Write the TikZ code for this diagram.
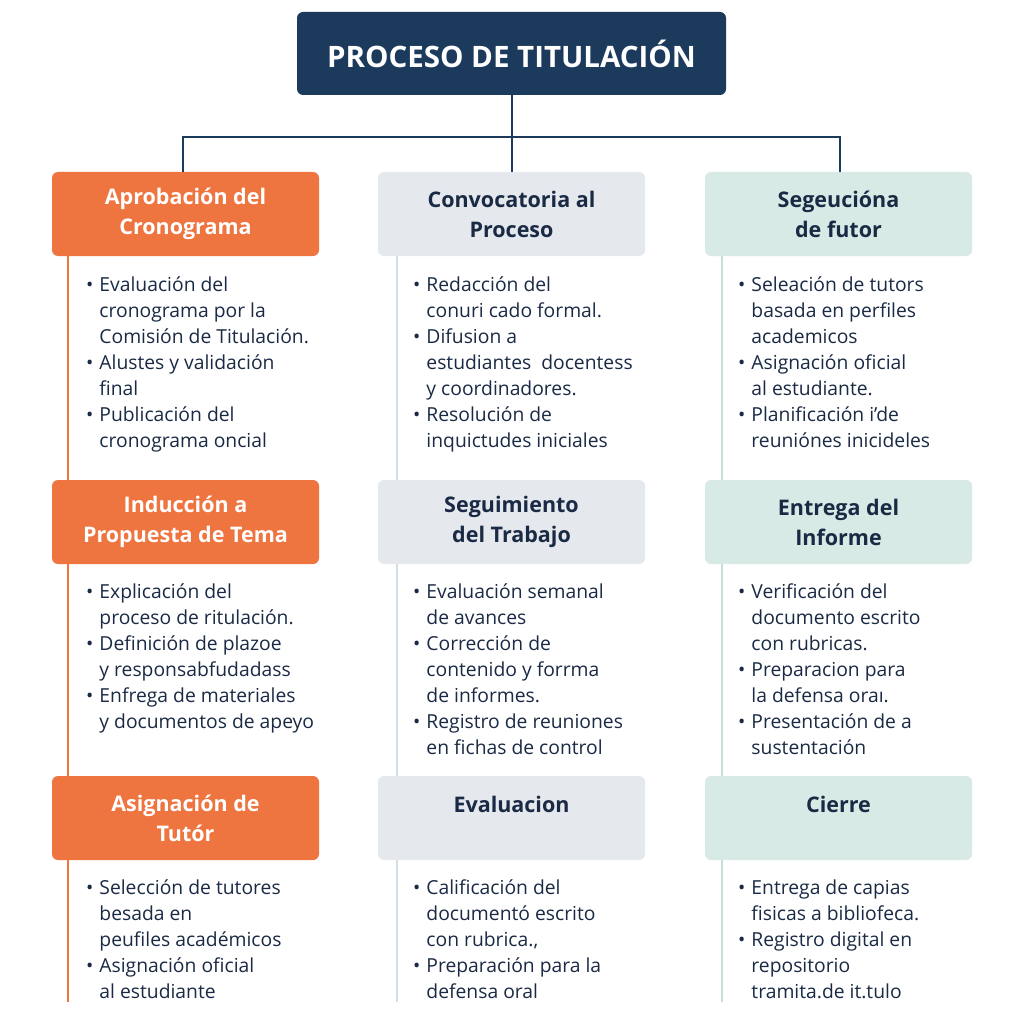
\documentclass[tikz,border=0pt]{standalone}
\usepackage{fontspec}
\setmainfont{Open Sans}
\usetikzlibrary{calc}
\definecolor{navy}{HTML}{1B3A5C}
\definecolor{ink}{HTML}{1A2A44}
\definecolor{orng}{HTML}{EE7440}
\definecolor{grayb}{HTML}{E5E9EE}
\definecolor{tealb}{HTML}{D8EAE6}
\definecolor{grayl}{HTML}{D5DDE4}
\definecolor{teall}{HTML}{C3DFD9}
\newcommand{\blist}[1]{\fontsize{19.3}{26}\selectfont\begin{tabular}{@{}l@{\hspace{6pt}}l@{}}#1\end{tabular}}
\begin{document}
\begin{tikzpicture}[x=1pt,y=-1pt,
  box/.style={rounded corners=6pt,minimum width=267pt,minimum height=84pt,align=center,font=\fontsize{21.5}{30}\selectfont\bfseries,inner sep=0pt},
  obox/.style={box,fill=orng,text=white},
  gbox/.style={box,fill=grayb,text=ink},
  tbox/.style={box,fill=tealb,text=ink},
  list/.style={anchor=north west,inner sep=0pt,text=ink},
  conn/.style={draw=navy,line width=2pt}]
\useasboundingbox (0,0) rectangle (1024,1024);
\fill[white] (0,0) rectangle (1024,1024);
\node[rounded corners=6pt,fill=navy,text=white,minimum width=429pt,minimum height=83pt,font=\fontsize{29.5}{32}\selectfont\bfseries] (title) at (511.5,53.5) {PROCESO DE TITULACIÓN};
% side lines
\draw[orng,line width=2.5pt] (68,256) -- (68,1002);
\draw[grayl,line width=2.5pt] (397,256) -- (397,1002);
\draw[teall,line width=2.5pt] (722,256) -- (722,1002);
% boxes
\node[obox] (a1) at (185.5,214) {Aprobación del\\Cronograma};
\node[gbox] (b1) at (511.5,214) {Convocatoria al\\Proceso};
\node[tbox] (c1) at (838.5,214) {Segeucióna\\de futor};
\node[obox] (a2) at (185.5,522) {Inducción a\\Propuesta de Tema};
\node[gbox] (b2) at (511.5,522) {Seguimiento\\del Trabajo};
\node[tbox] (c2) at (838.5,522) {Entrega del\\Informe};
\node[obox] (a3) at (185.5,818) {Asignación de\\Tutór};
\node[gbox] (b3) at (511.5,818) {};
\node[tbox] (c3) at (838.5,818) {};
\node[text=ink,font=\fontsize{21.5}{30}\selectfont\bfseries] (b3t) at (511.5,804) {Evaluacion};
\node[text=ink,font=\fontsize{21.5}{30}\selectfont\bfseries] (c3t) at (838.5,804) {Cierre};
% connectors
\coordinate (j) at (511.5,137);
\draw[conn] (title.south) -- (j);
\draw[conn] (a1.north -| 183,0) |- (j) -| (c1.north -| 840,0);
\draw[conn] (j) -- (b1.north);
% lists
\node[list] (la1) at (86,273) {\blist{• & Evaluación del\\ & cronograma por la\\ & Comisión de Titulación.\\• & Alustes y validación\\ & final\\• & Publicación del\\ & cronograma oncial}};
\node[list] (lb1) at (413,273) {\blist{• & Redacción del\\ & conuri cado formal.\\• & Difusion a\\ & estudiantes\ \ docentess\\ & y coordinadores.\\• & Resolución de\\ & inquictudes iniciales}};
\node[list] (lc1) at (738,273) {\blist{• & Seleación de tutors\\ & basada en perfiles\\ & academicos\\• & Asignación oficial\\ & al estudiante.\\• & Planificación i'de\\ & reuniónes inicideles}};
\node[list] (la2) at (86,580) {\blist{• & Explicación del\\ & proceso de ritulación.\\• & Definición de plazoe\\ & y responsabfudadass\\• & Enfrega de materiales\\ & y documentos de apeyo}};
\node[list] (lb2) at (413,580) {\blist{• & Evaluación semanal\\ & de avances\\• & Corrección de\\ & contenido y forrma\\ & de informes.\\• & Registro de reuniones\\ & en fichas de control}};
\node[list] (lc2) at (738,580) {\blist{• & Verificación del\\ & documento escrito\\ & con rubricas.\\• & Preparacion para\\ & la defensa oraı.\\• & Presentación de a\\ & sustentación}};
\node[list] (la3) at (86,876) {\blist{• & Selección de tutores\\ & besada en\\ & peufiles académicos\\• & Asignación oficial\\ & al estudiante}};
\node[list] (lb3) at (413,876) {\blist{• & Calificación del\\ & documentó escrito\\ & con rubrica.,\\• & Preparación para la\\ & defensa oral}};
\node[list] (lc3) at (738,876) {\blist{• & Entrega de capias\\ & fisicas a bibliofeca.\\• & Registro digital en\\ & repositorio\\ & tramita.de it.tulo}};
\end{tikzpicture}
\end{document}
